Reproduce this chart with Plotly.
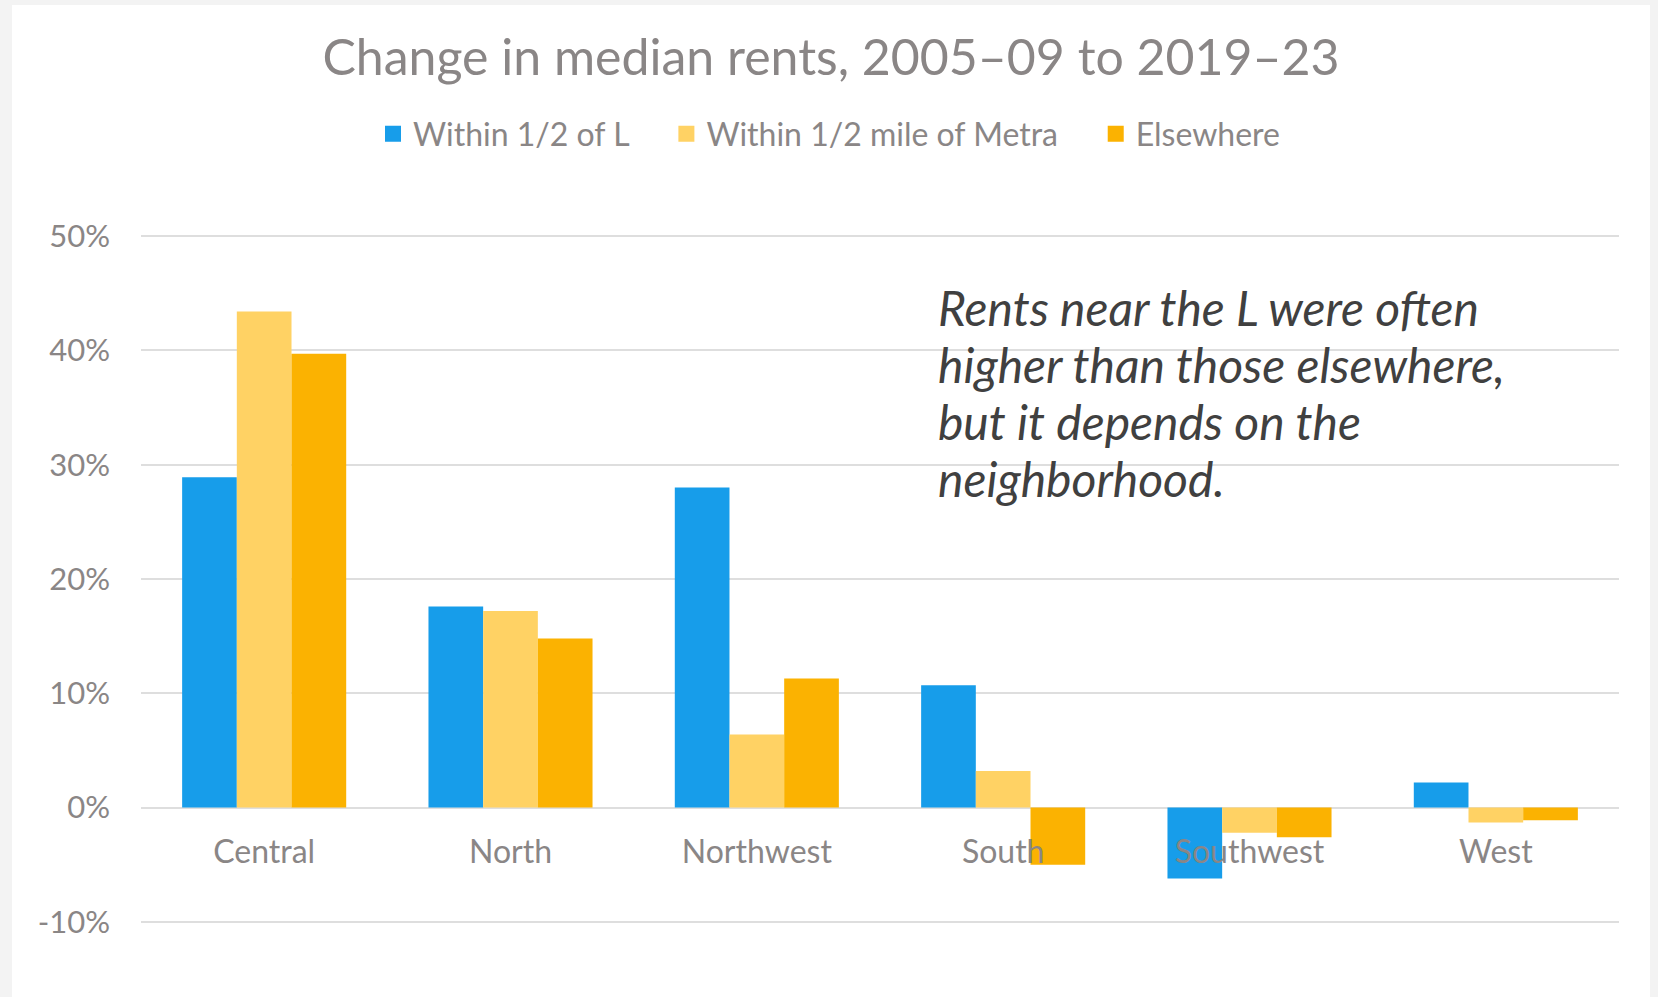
import plotly.graph_objects as go

categories = ["Central", "North", "Northwest", "South", "Southwest", "West"]
series_names = ["Within 1/2 of L", "Within 1/2 mile of Metra", "Elsewhere"]
within_L = [28.9, 17.6, 28.0, 10.7, -6.2, 2.2]
within_metra = [43.4, 17.2, 6.4, 3.2, -2.2, -1.3]
elsewhere = [39.7, 14.8, 11.3, -5.0, -2.6, -1.1]
tick_values = [-10, 0, 10, 20, 30, 40, 50]
tick_labels = ["-10%", "0%", "10%", "20%", "30%", "40%", "50%"]
title_text = "Change in median rents, 2005\u201309 to 2019\u201323"
note_lines = ["Rents near the L were often", "higher than those elsewhere,",
              "but it depends on the", "neighborhood."]

colors = ["#179DEA", "#FFD264", "#FBB201"]
W, H = 1658, 997
L, R, T, B = 141, 1658 - 1619, 235, 997 - 923
pw, ph = W - L - R, H - T - B
y_lo, y_hi = -10.1, 50.1


def py(pix):
    return (H - B - pix) / ph


fig = go.Figure()
for name, vals, col in zip(series_names, [within_L, within_metra, elsewhere], colors):
    fig.add_trace(go.Bar(x=categories, y=vals, name=name, showlegend=False,
                         marker=dict(color=col, line=dict(width=0))))
pad = "\u00a0" * 4
for i, (name, col) in enumerate(zip(series_names, colors)):
    label = name + (pad if i < len(series_names) - 1 else "")
    fig.add_trace(go.Scatter(x=[None], y=[None], mode="markers", name=label,
                             marker=dict(symbol="square", size=16, color=col)))

grey = "#8a8686"
annotations = []
for i, line in enumerate(note_lines):
    annotations.append(dict(text=line, xref="paper", yref="paper",
                            x=(936 - L) / pw, y=py(307 + 57 * i), xanchor="left", yanchor="middle",
                            align="left", showarrow=False,
                            font=dict(family="Lato", size=48, color="#404040", style="italic")))

fig.update_layout(
    width=W, height=H,
    margin=dict(l=L, r=R, t=T, b=B, autoexpand=False),
    paper_bgcolor="#f3f3f3", plot_bgcolor="white",
    barmode="group", bargap=0.334, bargroupgap=0,
    font=dict(family="Lato", color=grey),
    title=dict(text=title_text, x=(12 + 1650) / 2 / W, xanchor="center",
               y=1 - 57 / H, yanchor="middle", yref="container",
               font=dict(family="Lato", size=50, color=grey)),
    legend=dict(orientation="h", x=(829 - L) / pw, xanchor="center",
                y=py(134), yanchor="middle",
                font=dict(family="Lato", size=32, color=grey),
                bgcolor="rgba(0,0,0,0)", itemwidth=30, itemsizing="trace", tracegroupgap=0),
    xaxis=dict(anchor="free", position=(0 - y_lo) / (y_hi - y_lo), showgrid=False, showline=False,
               zeroline=False, ticks="outside", ticklen=16, tickcolor="rgba(0,0,0,0)",
               tickfont=dict(family="Lato", size=32, color=grey)),
    yaxis=dict(range=[y_lo, y_hi], tickvals=tick_values, ticktext=tick_labels,
               showgrid=True, gridcolor="#dedede", gridwidth=2,
               zeroline=True, zerolinecolor="#dedede", zerolinewidth=2,
               showline=False, ticks="", ticklabelstandoff=30,
               tickfont=dict(family="Lato", size=31, color=grey)),
    shapes=[dict(type="rect", xref="paper", yref="paper", layer="below",
                 x0=(12 - L) / pw, x1=(1650 - L) / pw,
                 y0=py(997), y1=py(5),
                 fillcolor="white", line=dict(width=0))],
    annotations=annotations,
)

fig.write_html("out.html", config={"displayModeBar": False},
               post_script="document.body.style.margin='0px';")
